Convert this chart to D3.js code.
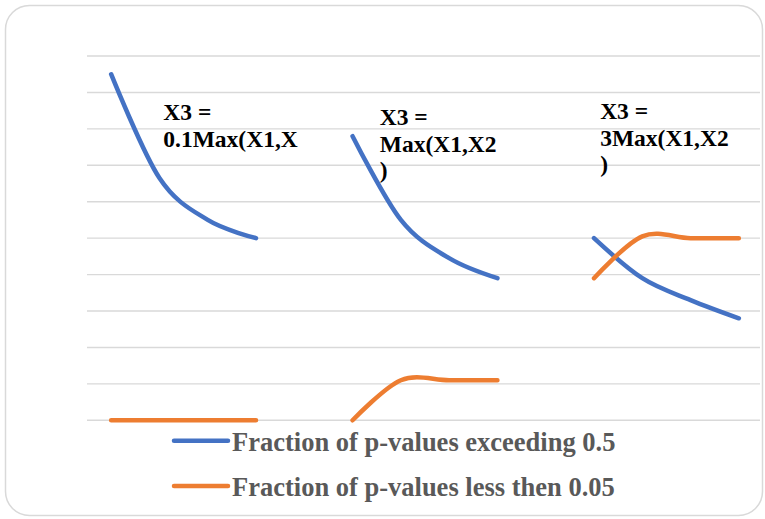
<!DOCTYPE html>
<html>
<head>
<meta charset="utf-8">
<script src="https://cdn.jsdelivr.net/npm/d3@7"></script>
<style>
  body { margin: 0; background: #fff; }
  svg { display: block; }
  text { font-family: "Liberation Serif", "Times New Roman", serif; font-weight: bold; }
</style>
</head>
<body>
<svg id="chart" width="765" height="519"></svg>
<script>
// categories (no visible axis labels in the original), gaps are nulls
var categories = ["1","2","3","4","5","6","7","8","9","10","11","12","13","14"];
var exceeding = [0.95, 0.665, 0.55, 0.5, null, 0.78, 0.55, 0.445, 0.39, null, 0.5, 0.39, 0.33, 0.28];
var lessThen  = [0, 0, 0, 0, null, 0, 0.11, 0.11, 0.11, null, 0.39, 0.505, 0.5, 0.5];
var seriesNames = ["Fraction of p-values exceeding 0.5", "Fraction of p-values less then 0.05"];
var seriesColors = ["#4472c4", "#ed7d31"];
var yTicks = [0, 0.1, 0.2, 0.3, 0.4, 0.5, 0.6, 0.7, 0.8, 0.9, 1];
var annotations = [
  ["X3 =", "0.1Max(X1,X"],
  ["X3 =", "Max(X1,X2", ")"],
  ["X3 =", "3Max(X1,X2", ")"]
];

var svg = d3.select("#chart");
var plotLeft = 87, plotRight = 763, plotTop = 56, plotBottom = 420.3;

// chart frame
svg.append("rect")
  .attr("x", 5.5)
  .attr("y", 5.5)
  .attr("width", 757)
  .attr("height", 510)
  .attr("rx", 24)
  .attr("fill", "#fff")
  .attr("stroke", "#d9d9d9")
  .attr("stroke-width", 1.5)

var xScale = d3.scaleBand()
  .domain(categories)
  .range([plotLeft, plotRight]);

var yScale = d3.scaleLinear()
  .domain([0, 1])
  .range([plotBottom, plotTop]);

// gridlines
svg.append("g")
  .selectAll("line")
  .data(yTicks)
  .enter()
  .append("line")
    .attr("x1", plotLeft)
    .attr("x2", plotRight - 3)
    .attr("y1", function(d){ return yScale(d); })
    .attr("y2", function(d){ return yScale(d); })
    .attr("stroke", "#d9d9d9")
    .attr("stroke-width", 1.4)

var line = d3.line()
  .defined(function(d){ return d.v != null; })
  .x(function(d){ return xScale(d.c) + xScale.bandwidth()/2; })
  .y(function(d){ return yScale(d.v); })
  .curve(d3.curveCardinal.tension(0))

var series = [exceeding, lessThen];
series.forEach(function(values, i){
  var points = categories.map(function(c, j){ return {c: c, v: values[j]}; });
  svg.append("path")
    .datum(points)
    .attr("d", line)
    .attr("fill", "none")
    .attr("stroke", seriesColors[i])
    .attr("stroke-width", 4.5)
    .attr("stroke-linecap", "round")
    .attr("stroke-linejoin", "round")
});

// text labels on the curves
var labelPos = [
  {x: xScale(categories[1]) + 28, y: 120},
  {x: xScale(categories[6]) + 3, y: 125},
  {x: xScale(categories[11]) - 18, y: 119}
];
annotations.forEach(function(lines, i){
  var t = svg.append("text")
    .attr("x", labelPos[i].x)
    .attr("y", labelPos[i].y)
    .attr("font-size", 23.5)
    .attr("fill", "#000");
  lines.forEach(function(s, k){
    t.append("tspan")
      .attr("x", labelPos[i].x)
      .attr("dy", k == 0 ? 0 : 26.7)
      .text(s);
  });
});

// legend
seriesNames.forEach(function(name, i){
  var ly = 440.7 + i * 45.3;
  svg.append("line")
    .attr("x1", 174)
    .attr("x2", 228)
    .attr("y1", ly)
    .attr("y2", ly)
    .attr("stroke", seriesColors[i])
    .attr("stroke-width", 4.5)
    .attr("stroke-linecap", "round")
  svg.append("text")
    .attr("x", 232)
    .attr("y", ly + 10)
    .attr("font-size", 26.5)
    .attr("fill", "#595959")
    .text(name)
});
</script>
</body>
</html>
